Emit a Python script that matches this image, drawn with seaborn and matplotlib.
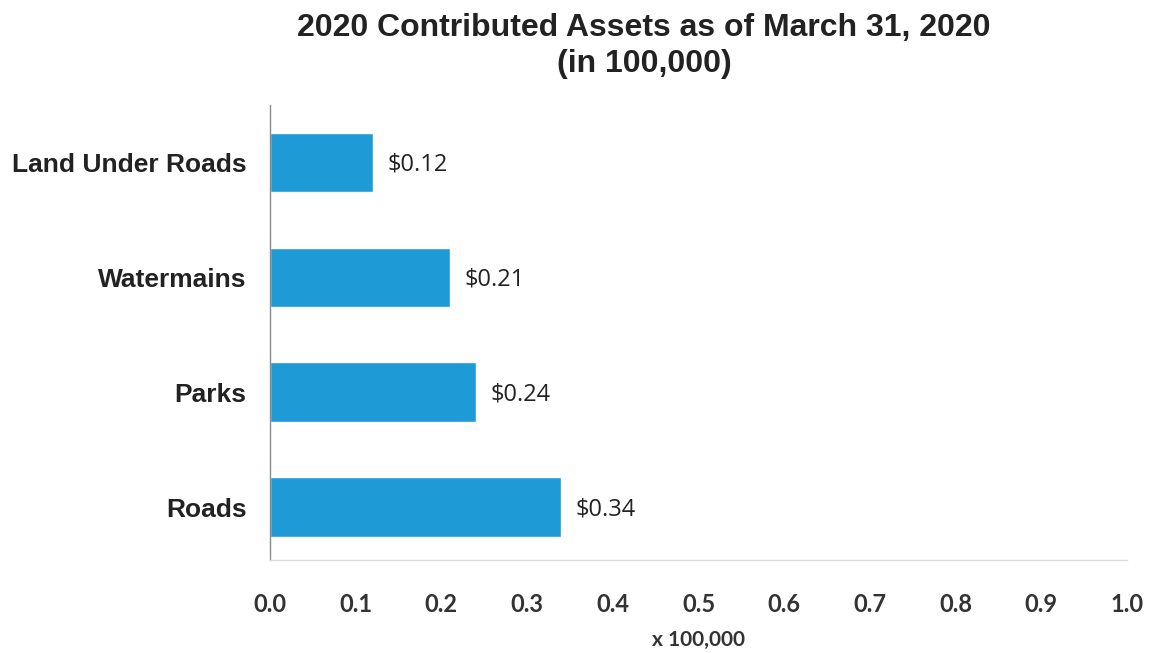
import matplotlib
matplotlib.use("Agg")
import matplotlib.pyplot as plt
import seaborn as sns
import pandas as pd

categories = ["Land Under Roads", "Watermains", "Parks", "Roads"]
values = [0.12, 0.21, 0.24, 0.34]
labels = ["$0.12", "$0.21", "$0.24", "$0.34"]
xticks = [0.0, 0.1, 0.2, 0.3, 0.4, 0.5, 0.6, 0.7, 0.8, 0.9, 1.0]

sns.set_style("white")
plt.rcParams["font.family"] = ["Liberation Sans", "DejaVu Sans"]

df = pd.DataFrame({"asset": categories, "value": values})

fig = plt.figure(figsize=(11.5, 6.53), dpi=100)
ax = fig.add_axes([0.2348, 0.1424, 0.7452, 0.6966])

sns.barplot(data=df, x="value", y="asset", orient="h", color="#1e9bd7",
            saturation=1, width=0.52, ax=ax)

for i, (v, t) in enumerate(zip(values, labels)):
    ax.text(v + 0.017, i + 0.02, t.replace("$", r"\$"), va="center", ha="left",
            fontsize=17, family="Open Sans", color="#222222")

ax.set_xlim(0, 1.0)
ax.set_ylim(3.46, -0.5)
ax.set_xticks(xticks)
ax.set_xticklabels([f"{x:.1f}" for x in xticks], fontsize=17,
                   fontweight="bold", family="Lato", color="#333333")
ax.tick_params(axis="x", length=0, pad=24)
ax.tick_params(axis="y", length=0, pad=17)
for lbl in ax.get_yticklabels():
    lbl.set_fontsize(19)
    lbl.set_fontweight("bold")
    lbl.set_color("#222222")
ax.set_ylabel("")
ax.set_xlabel("x 100,000", fontsize=15, fontweight="bold", family="Lato",
              color="#333333", labelpad=10)

for s in ["top", "right"]:
    ax.spines[s].set_visible(False)
ax.spines["left"].set_color("#8a8a8a")
ax.spines["left"].set_linewidth(1)
ax.spines["bottom"].set_color("#dddddd")
ax.spines["bottom"].set_linewidth(1)

fig.suptitle("2020 Contributed Assets as of March 31, 2020\n(in 100,000)",
             x=0.56, y=0.98, fontsize=23, fontweight="bold", color="#222222",
             linespacing=1.25)

fig.savefig("out.png", dpi=100)
